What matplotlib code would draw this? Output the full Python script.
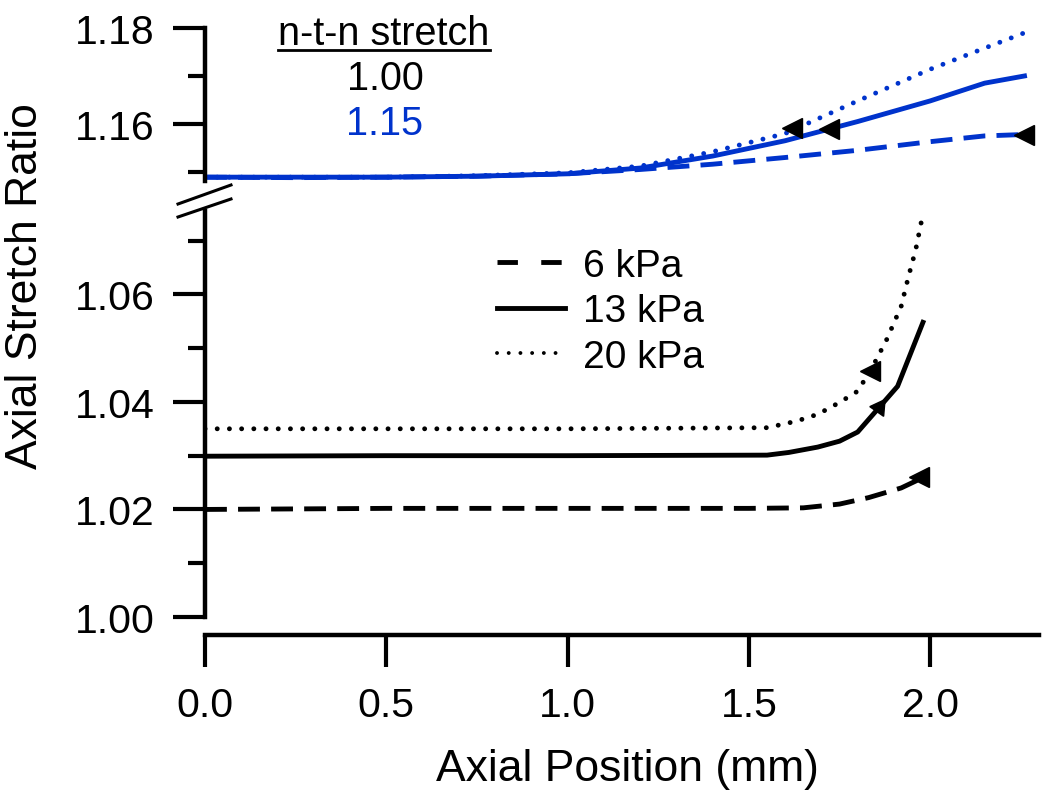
import matplotlib
matplotlib.use("Agg")
import matplotlib.pyplot as plt
from matplotlib.lines import Line2D
from matplotlib.ticker import MultipleLocator, FormatStrFormatter

plt.rcParams['font.family'] = ['Liberation Sans', 'DejaVu Sans']

BLUE = '#0033cc'

# n-t-n stretch 1.00 (black curves, lower panel)
x_6k = [0.0, 0.5, 1.0, 1.5, 1.65, 1.75, 1.83, 1.92, 1.97]
y_6k = [1.0200, 1.0202, 1.0202, 1.0202, 1.0203, 1.0210, 1.0222, 1.0240, 1.0256]
x_13k = [0.0, 0.5, 1.0, 1.55, 1.61, 1.69, 1.75, 1.80, 1.91, 1.98]
y_13k = [1.0299, 1.0300, 1.0300, 1.0301, 1.0306, 1.0316, 1.0327, 1.0344, 1.0429, 1.0548]
x_20k = [0.0, 1.0, 1.55, 1.63, 1.69, 1.75, 1.80, 1.84, 1.88, 1.92, 1.94, 1.96, 1.98]
y_20k = [1.0350, 1.0350, 1.0352, 1.0364, 1.0377, 1.0399, 1.0420, 1.0464, 1.0516, 1.0578, 1.0633, 1.0683, 1.0750]

# n-t-n stretch 1.15 (blue curves, upper panel)
xb = [0.0, 0.25, 0.5, 0.75, 1.0, 1.2, 1.4, 1.6, 1.8, 2.0, 2.15, 2.26]
yb_6k = [1.1489, 1.1488, 1.1489, 1.1491, 1.1496, 1.1505, 1.1516, 1.1530, 1.1545, 1.1563, 1.1575, 1.1578]
yb_13k = [1.1489, 1.1489, 1.1489, 1.1491, 1.1496, 1.1508, 1.1533, 1.1565, 1.1605, 1.1648, 1.1685, 1.1700]
yb_20k = [1.1489, 1.1489, 1.1489, 1.1492, 1.1498, 1.1512, 1.1542, 1.1580, 1.1648, 1.1714, 1.1758, 1.1790]

# arrow heads drawn on the curves
arr_low_x = [1.97, 1.834]
arr_low_y = [1.0260, 1.0457]
arr_up13_x = [1.86]
arr_up13_y = [1.0390]
arr_hi_x = [1.62, 1.72, 2.26]
arr_hi_y = [1.1592, 1.1590, 1.1577]

legend_labels = ['6 kPa', '13 kPa', '20 kPa']

fig = plt.figure(figsize=(10.5, 8.04), dpi=100)
W, H = 1050.0, 804.0
ax_lo = fig.add_axes([205 / W, 1 - 618 / H, 834 / W, 406 / H])
ax_hi = fig.add_axes([205 / W, 1 - 182 / H, 834 / W, 153 / H])

lw = 3.5
dash = (4.5, 2.3)
dot = (0.01, 2.5)

ax_lo.plot(x_6k, y_6k, color='black', lw=lw, dashes=dash)
ax_lo.plot(x_13k, y_13k, color='black', lw=lw)
ax_lo.plot(x_20k, y_20k, color='black', lw=lw, dashes=dot, dash_capstyle='round')
ax_lo.plot(arr_low_x, arr_low_y, ls='none', marker='<', ms=14, color='black')
ax_lo.plot(arr_up13_x, arr_up13_y, ls='none', marker=(3, 0, -35), ms=14, color='black')

ax_hi.plot(xb, yb_6k, color=BLUE, lw=lw, dashes=dash)
ax_hi.plot(xb, yb_13k, color=BLUE, lw=lw)
ax_hi.plot(xb, yb_20k, color=BLUE, lw=lw, dashes=dot, dash_capstyle='round')
ax_hi.plot(arr_hi_x, arr_hi_y, ls='none', marker='<', ms=14, color='black')

for ax in (ax_lo, ax_hi):
    ax.set_xlim(0, 2.3)
    for s in ('top', 'right'):
        ax.spines[s].set_visible(False)
    for s in ('left', 'bottom'):
        ax.spines[s].set_linewidth(3.2)
    ax.yaxis.set_major_formatter(FormatStrFormatter('%.2f'))
    ax.tick_params(axis='y', which='major', length=23, width=3, pad=13, labelsize=29.5)
    ax.tick_params(axis='y', which='minor', length=12, width=3)

ax_lo.set_ylim(1.00, 1.0755)
ax_lo.yaxis.set_major_locator(MultipleLocator(0.02))
ax_lo.yaxis.set_minor_locator(MultipleLocator(0.01))
ax_lo.spines['bottom'].set_position(('outward', 13))
ax_lo.xaxis.set_major_locator(MultipleLocator(0.5))
ax_lo.xaxis.set_major_formatter(FormatStrFormatter('%.1f'))
ax_lo.tick_params(axis='x', length=23, width=3, pad=14, labelsize=29.5)

ax_hi.set_ylim(1.1481, 1.18)
ax_hi.yaxis.set_major_locator(MultipleLocator(0.02))
ax_hi.yaxis.set_minor_locator(MultipleLocator(0.01))
ax_hi.spines['bottom'].set_visible(False)
ax_hi.tick_params(axis='x', bottom=False, labelbottom=False)
ax_hi.patch.set_visible(False)

# axis break marks
for y0, y1 in [(205, 186), (218, 200)]:
    fig.add_artist(Line2D([178 / W, 231 / W], [1 - y0 / H, 1 - y1 / H], color='black', lw=2.2))

fig.text(26 / W, 1 - 286 / H, 'Axial Stretch Ratio', rotation=90, ha='center', va='center', fontsize=32)
fig.text(627 / W, 1 - 770 / H, 'Axial Position (mm)', ha='center', va='center', fontsize=32)

# n-t-n stretch key
fig.text(384 / W, 1 - 45 / H, 'n-t-n stretch', ha='center', va='baseline', fontsize=28.5)
fig.add_artist(Line2D([278 / W, 490 / W], [1 - 51 / H, 1 - 51 / H], color='black', lw=2))
fig.text(385 / W, 1 - 90 / H, '1.00', ha='center', va='baseline', fontsize=28.5, color='black')
fig.text(385 / W, 1 - 135 / H, '1.15', ha='center', va='baseline', fontsize=28.5, color=BLUE)

handles = [
    Line2D([], [], color='black', lw=lw, dashes=(4.2, 4.8)),
    Line2D([], [], color='black', lw=lw),
    Line2D([], [], color='black', lw=2.8, dashes=(0.01, 3.0), dash_capstyle='round'),
]
fig.legend(handles, legend_labels, loc='upper left', bbox_to_anchor=(497 / W, 1 - 249 / H),
           frameon=False, fontsize=28, borderpad=0, borderaxespad=0, handlelength=1.75,
           handletextpad=0.45, labelspacing=0.24)

fig.savefig('out.png', dpi=100)
